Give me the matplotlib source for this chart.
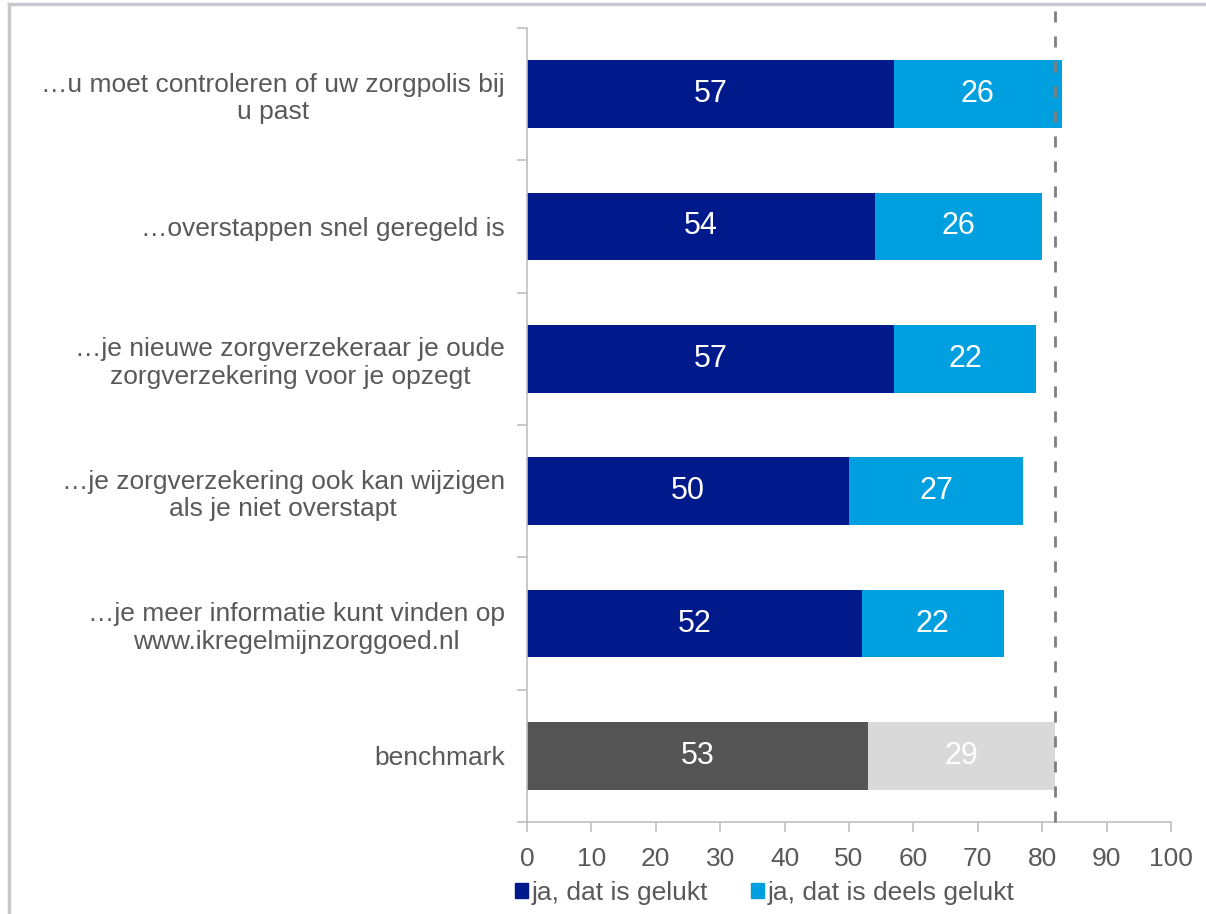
import matplotlib.pyplot as plt
import numpy as np
from matplotlib.patches import Rectangle

plt.rcParams['font.family'] = ['Liberation Sans', 'DejaVu Sans']

# Categories (top to bottom) and their values
categories = [
    "…u moet controleren of uw zorgpolis bij\nu past",
    "…overstappen snel geregeld is",
    "…je nieuwe zorgverzekeraar je oude\nzorgverzekering voor je opzegt",
    "…je zorgverzekering ook kan wijzigen\nals je niet overstapt",
    "…je meer informatie kunt vinden op\nwww.ikregelmijnzorggoed.nl",
    "benchmark",
]
gelukt = [57, 54, 57, 50, 52, 53]
deels_gelukt = [26, 26, 22, 27, 22, 29]
benchmark_total = 82

legend_labels = ["ja, dat is gelukt", "ja, dat is deels gelukt"]

dark_colors = ["#001A8C"] * 5 + ["#555555"]
light_colors = ["#00A0E0"] * 5 + ["#D9D9D9"]
text_gray = "#595959"
axis_gray = "#BFBFBF"

fig = plt.figure(figsize=(12.06, 9.14), dpi=100)
ax = fig.add_axes([527 / 1206, 1 - 822 / 914, (1171 - 527) / 1206, (822 - 28) / 914])

y = np.arange(len(categories))
bar_h = 0.51
ax.barh(y, gelukt, height=bar_h, color=dark_colors, edgecolor="none")
ax.barh(y, deels_gelukt, left=gelukt, height=bar_h, color=light_colors, edgecolor="none")

for i in range(len(categories)):
    ax.text(gelukt[i] / 2, y[i], str(gelukt[i]), ha="center", va="center",
            color="white", fontsize=22)
    ax.text(gelukt[i] + deels_gelukt[i] / 2, y[i], str(deels_gelukt[i]),
            ha="center", va="center", color="white", fontsize=22)

# benchmark reference line, reaching up to the frame
ax.axvline(benchmark_total, ymin=0, ymax=(822 - 4) / 794, color="#7F7F7F",
           linestyle=(0, (4, 5)), linewidth=2, clip_on=False, zorder=5)

ax.set_xlim(0, 100)
ax.set_ylim(len(categories) - 0.5, -0.5)
ax.set_xticks(np.arange(0, 101, 10))
ax.set_yticks(y)
ax.set_yticklabels(categories, fontsize=19, color=text_gray, linespacing=1.2,
                   multialignment="center")
ax.set_yticks(np.arange(-0.5, len(categories)), minor=True)
ax.tick_params(axis="y", which="major", length=0, pad=16)
ax.tick_params(axis="y", which="minor", length=7, color=axis_gray, width=1.2)
ax.tick_params(axis="x", labelsize=19, labelcolor=text_gray, length=7,
               color=axis_gray, width=1.2, pad=11)

for s in ["top", "right"]:
    ax.spines[s].set_visible(False)
for s in ["left", "bottom"]:
    ax.spines[s].set_color(axis_gray)
    ax.spines[s].set_linewidth(1.2)

# legend below the axis
handles = [Rectangle((0, 0), 1, 1, color="#001A8C"), Rectangle((0, 0), 1, 1, color="#00A0E0")]
fig.legend(handles, legend_labels, loc="center left", bbox_to_anchor=(515 / 1206, 1 - 893 / 914),
           ncol=2, frameon=False, fontsize=19, labelcolor=text_gray,
           handlelength=0.5, handleheight=0.5, handletextpad=0.15, columnspacing=1.6,
           borderaxespad=0, borderpad=0)

# thin frame along the top and left edges
fig.add_artist(plt.Line2D([9 / 1206, 1], [1 - 4 / 914, 1 - 4 / 914], color="#C8C8CC", linewidth=2.5,
                          transform=fig.transFigure))
fig.add_artist(plt.Line2D([9 / 1206, 9 / 1206], [0, 1 - 4 / 914], color="#C8C8CC", linewidth=2.5,
                          transform=fig.transFigure))

fig.savefig("out.png", dpi=100, facecolor="white")
